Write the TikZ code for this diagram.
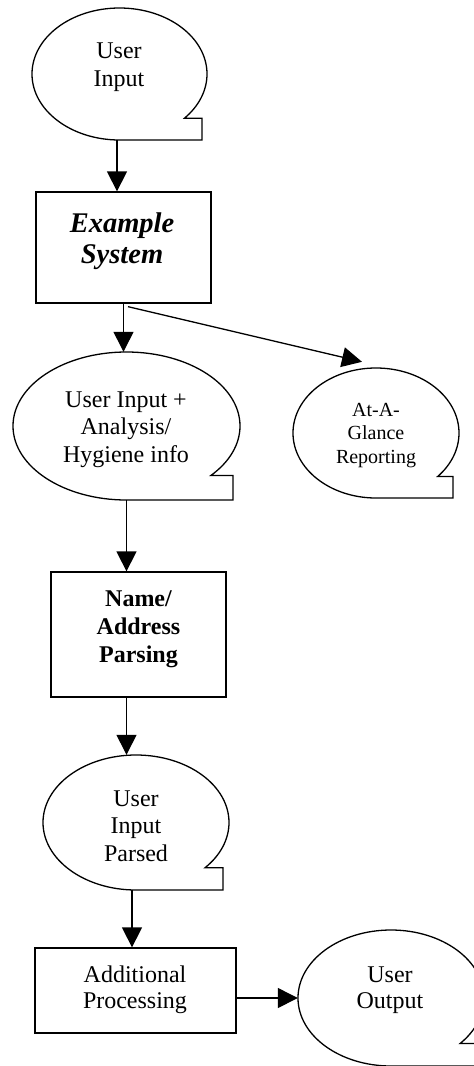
\documentclass[tikz,border=0pt]{standalone}
\usepackage{fontspec}
\setmainfont{Liberation Serif}
\usetikzlibrary{shapes.geometric,arrows.meta,calc}
\tikzset{
  ln/.style={line width=1.3pt, line join=miter},
  ell/.style={ellipse, draw=none, inner sep=0pt},
  boxn/.style={rectangle, draw, line width=1.3pt, inner sep=0pt},
  txt/.style={align=center, inner sep=0pt, anchor=base, font=\fontsize{24}{27.5}\selectfont},
  arr/.style={line width=1.3pt, -{Triangle[length=20pt,width=20pt]}}
}
\newcommand\mycallout[4]{%
  \draw[ln] ($(#1.center)+(0,-#3)$) coordinate (#1-b)
    arc[start angle=270,end angle=-42,x radius=#2,y radius=#3]
    -- ($(#1.center)+(#4,-0.669*#3)$) |- (#1-b) -- cycle;}
\begin{document}
\begin{tikzpicture}[x=1pt,y=1pt]
\useasboundingbox (0,0) rectangle (474,-1066);
\clip (0,0) rectangle (474,-1066);
% callout ellipses
\node[ell, minimum width=175pt, minimum height=132pt] (e1) at (119.5,-74) {};
\mycallout{e1}{87.5}{66}{82.5}
\node[txt] (t1) at (119,-86) {User\\Input};

\node[boxn, minimum width=175pt, minimum height=111pt] (es) at (123.5,-247.5) {};
\node[txt, font=\fontsize{28.5}{31}\selectfont\bfseries\itshape] (tes) at (122,-263) {Example\\System};

\node[ell, minimum width=227pt, minimum height=148pt] (e2) at (126.5,-426) {};
\mycallout{e2}{113.5}{74}{106.5}
\node[txt] (t2) at (126,-462) {User Input +\\Analysis/\\Hygiene info};

\node[ell, minimum width=166pt, minimum height=130pt] (e3) at (376,-433) {};
\mycallout{e3}{83}{65}{77}
\node[txt, font=\fontsize{20}{23.5}\selectfont] (t3) at (376,-463) {At-A-\\Glance\\Reporting};

\node[boxn, minimum width=175pt, minimum height=125pt] (nap) at (138.5,-634.5) {};
\node[txt, font=\fontsize{24}{28}\selectfont\bfseries] (tnap) at (138.5,-662) {Name/\\Address\\Parsing};

\node[ell, minimum width=186pt, minimum height=135pt] (e4) at (136,-822.5) {};
\mycallout{e4}{93}{67.5}{87}
\node[txt] (t4) at (136,-861) {User\\Input\\Parsed};

\node[boxn, minimum width=201pt, minimum height=85pt] (ap) at (135.5,-990.5) {};
\node[txt, font=\fontsize{24}{26}\selectfont] (tap) at (135,-1008) {Additional\\Processing};

\node[ell, minimum width=186pt, minimum height=136pt] (e5) at (391,-998) {};
\mycallout{e5}{93}{68}{87}
\node[txt, font=\fontsize{24}{26}\selectfont] (t5) at (390,-1008) {User\\Output};

% connectors
\draw[arr] ([xshift=-2.5pt]e1-b) -- ([xshift=-2.5pt]e1-b |- es.north);
\draw[arr] (es.south) -- (es.south |- e2.north);
\draw[arr] ([xshift=4.5pt,yshift=-3pt]es.south) -- ([xshift=-14pt,yshift=6pt]e3.north);
\draw[arr] (e2-b) -- (e2-b |- nap.north);
\draw[arr] (e2-b |- nap.south) -- (e2-b |- e4.north);
\draw[arr] ([xshift=-4pt]e4-b) -- ([xshift=-4pt]e4-b |- ap.north);
\draw[arr] (ap.east |- e5.west) -- (e5.west);
\end{tikzpicture}
\end{document}
